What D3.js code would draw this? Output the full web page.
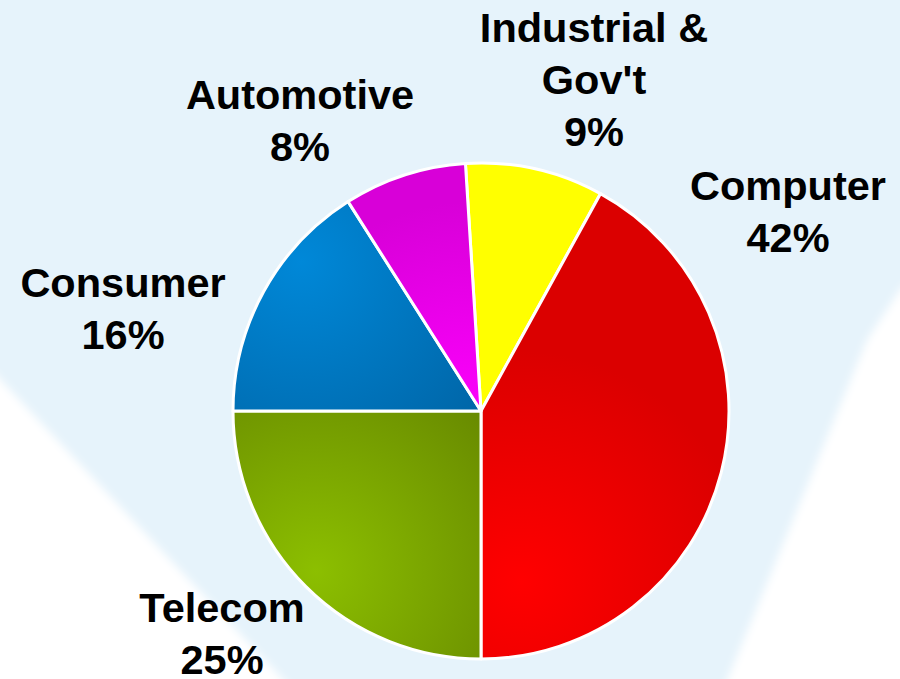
<!DOCTYPE html>
<html>
<head>
<meta charset="utf-8">
<script src="https://cdn.jsdelivr.net/npm/d3@7"></script>
<style>
  body { margin: 0; background: #ffffff; }
  svg { display: block; }
  .label { font-family: "Liberation Sans", Arial, sans-serif; font-weight: bold; font-size: 41.5px; fill: #000; }
</style>
</head>
<body>
<div id="chart"></div>
<script>
const FRAME_WIDTH = 900;
const FRAME_HEIGHT = 679;
const CENTER = {x: 481, y: 411};
const RADIUS = 248;

// data
const categories = ["Industrial & Gov't", "Computer", "Telecom", "Consumer", "Automotive"];
const shares = [9, 42, 25, 16, 8];
const labelLines = [["Industrial &", "Gov't"], ["Computer"], ["Telecom"], ["Consumer"], ["Automotive"]];

// label anchor offsets from pie center (first baseline)
const labelPos = [[113, -369], [307, -211], [-259, 211], [-358, -114], [-181, -302]];
const LINE_H = 52;

// gradient per slice: bright spot, dark edge, and spot position (relative to center)
const sliceColors = [
  {bright: "#ffff00", dark: "#ffff00", fx: 0, fy: -150},
  {bright: "#ff0000", dark: "#db0000", fx: 40, fy: 170},
  {bright: "#8cbf00", dark: "#688a00", fx: -165, fy: 160},
  {bright: "#0088d8", dark: "#0066a8", fx: -180, fy: -150},
  {bright: "#ff00ff", dark: "#d800d8", fx: -5, fy: 20}
];

const svg = d3.select("#chart")
  .append("svg")
    .attr("width", FRAME_WIDTH)
    .attr("height", FRAME_HEIGHT);

const defs = svg.append("defs");

// soft edge for background shapes
defs.append("filter")
    .attr("id", "soft")
    .attr("x", "-10%").attr("y", "-10%").attr("width", "120%").attr("height", "120%")
  .append("feGaussianBlur")
    .attr("stdDeviation", 4);

// background
svg.append("rect")
    .attr("width", FRAME_WIDTH)
    .attr("height", FRAME_HEIGHT)
    .attr("fill", "#e6f3fb");

svg.append("path")
    .attr("d", "M-20,358 L293,690 L-20,690 Z")
    .attr("fill", "#ffffff")
    .attr("filter", "url(#soft)");

svg.append("path")
    .attr("d", "M920,270 L900,290 Q880,320 867,340 L723,690 L920,690 Z")
    .attr("fill", "#ffffff")
    .attr("filter", "url(#soft)");

// gradients for slices
sliceColors.forEach((c, i) => {
  const g = defs.append("radialGradient")
      .attr("id", "grad" + i)
      .attr("gradientUnits", "userSpaceOnUse")
      .attr("cx", c.fx)
      .attr("cy", c.fy)
      .attr("r", 230);
  g.append("stop").attr("offset", "0%").attr("stop-color", c.bright);
  g.append("stop").attr("offset", "100%").attr("stop-color", c.dark);
});

// first slice starts just left of 12 o'clock
const startAngle = -Math.PI * 2 * 0.01;

const pie = d3.pie()
    .sort(null)
    .startAngle(startAngle)
    .endAngle(startAngle + Math.PI * 2)
    .value((d) => d);

const arc = d3.arc()
    .innerRadius(0)
    .outerRadius(RADIUS);

const G = svg.append("g")
    .attr("transform", "translate(" + CENTER.x + "," + CENTER.y + ")");

G.selectAll(".slice")
  .data(pie(shares))
  .enter()
  .append("path")
    .attr("class", "slice")
    .attr("d", arc)
    .attr("fill", (d, i) => "url(#grad" + i + ")")
    .attr("stroke", "#ffffff")
    .attr("stroke-width", 3)
    .attr("stroke-linejoin", "round");

// labels
categories.forEach((c, i) => {
  const lines = labelLines[i].concat([shares[i] + "%"]);
  const t = G.append("text")
      .attr("class", "label")
      .attr("text-anchor", "middle")
      .attr("x", labelPos[i][0])
      .attr("y", labelPos[i][1]);
  lines.forEach((ln, j) => {
    t.append("tspan")
        .attr("x", labelPos[i][0])
        .attr("dy", j === 0 ? 0 : LINE_H)
        .text(ln);
  });
});
</script>
</body>
</html>
